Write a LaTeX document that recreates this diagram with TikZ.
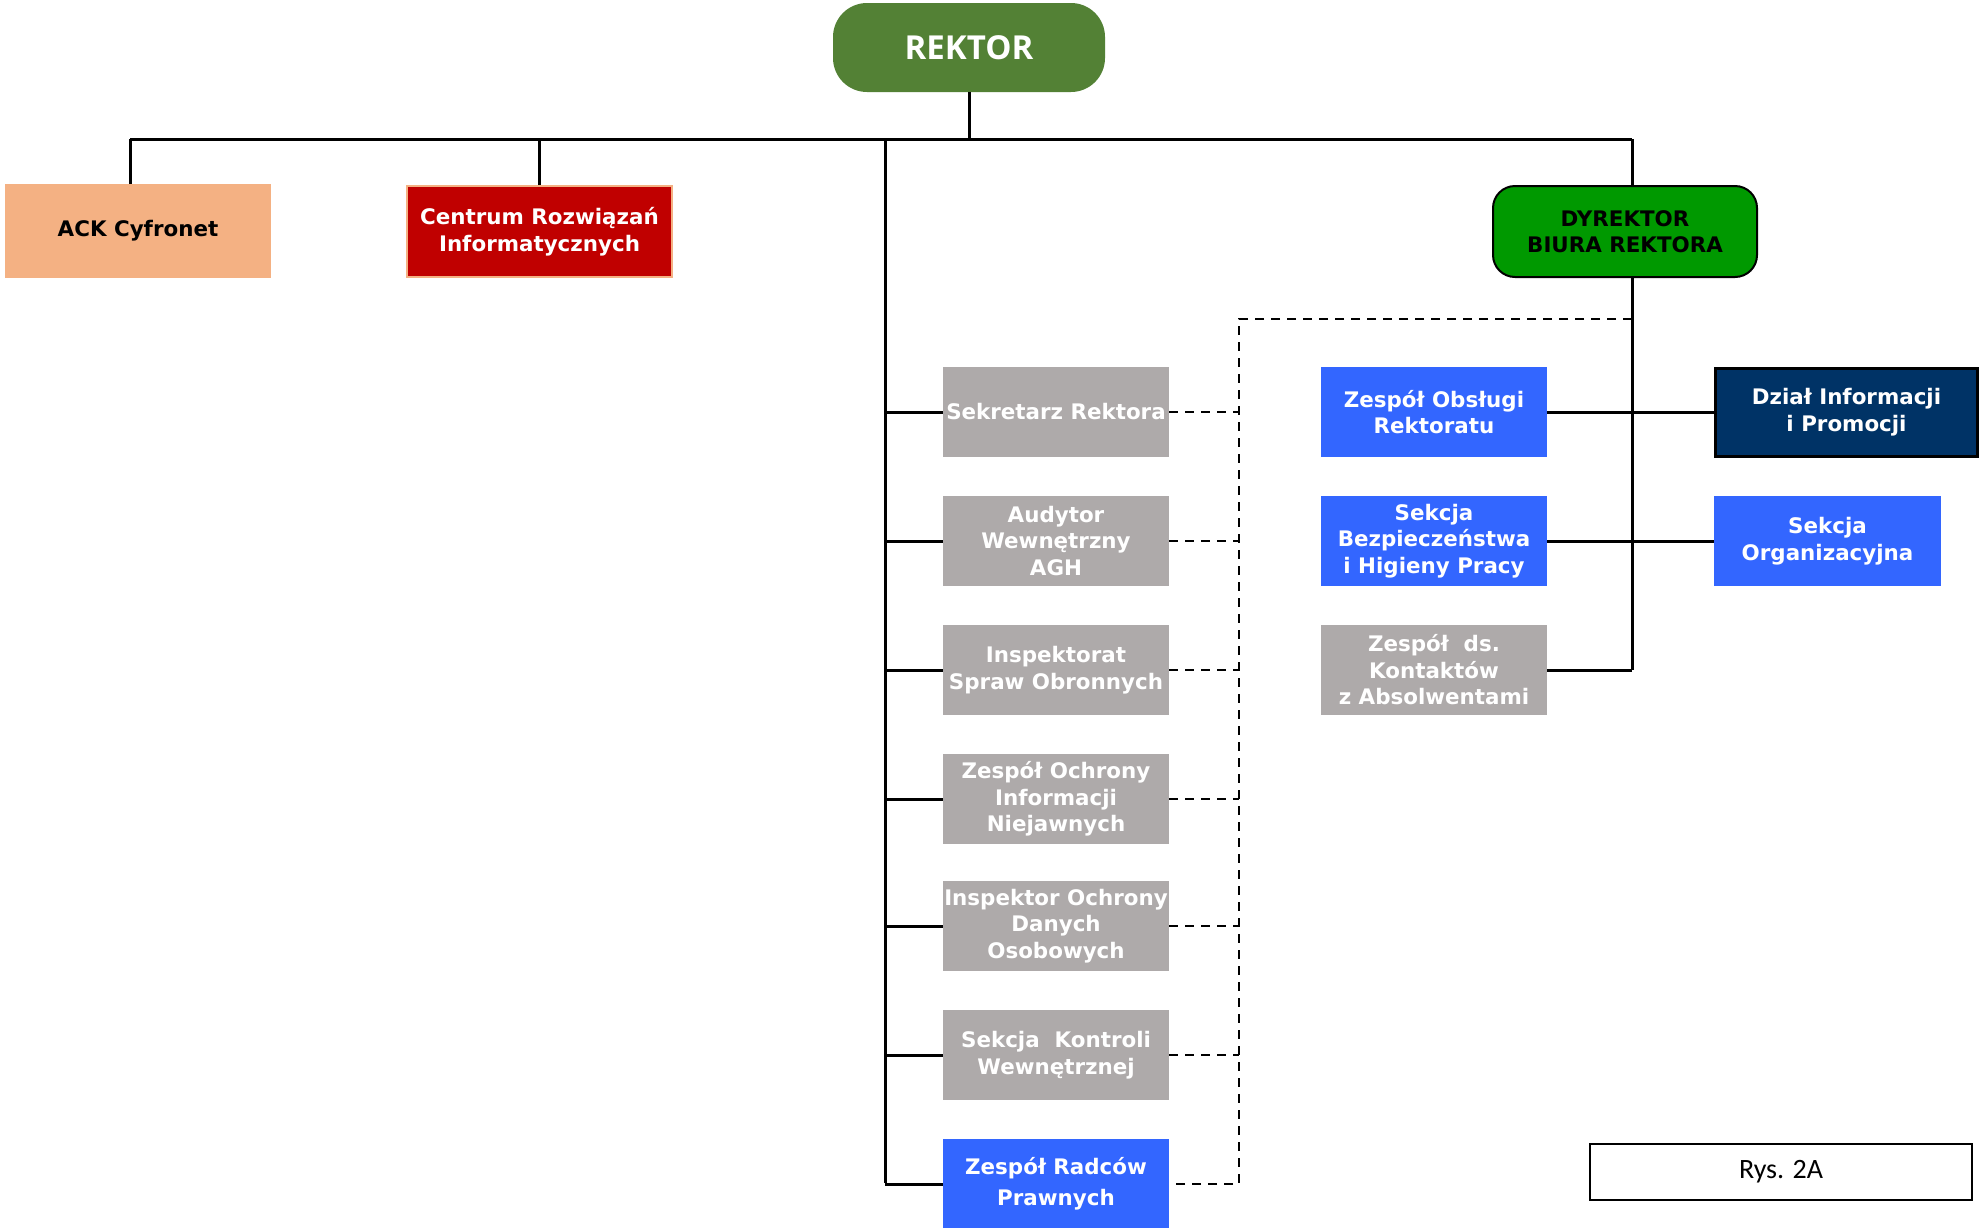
\documentclass[tikz,border=0pt]{standalone}
\usepackage{fontspec}
\setmainfont{DejaVu Sans}
\newfontfamily\rekfont{Open Sans}
\newfontfamily\rysfont{Carlito}
\definecolor{rekgreen}{HTML}{538135}
\definecolor{peach}{HTML}{F4B183}
\definecolor{darkred}{HTML}{C00000}
\definecolor{dyrgreen}{HTML}{009900}
\definecolor{boxgray}{HTML}{AEAAAA}
\definecolor{boxblue}{HTML}{3366FF}
\definecolor{navy}{HTML}{003366}
\tikzset{
  base/.style={align=center, inner sep=0pt, font=\fontsize{10.7}{13.25}\selectfont\bfseries, text=white},
  col/.style={base, minimum width=113pt, minimum height=45pt},
  graybox/.style={col, fill=boxgray},
  bluebox/.style={col, fill=boxblue},
  conn/.style={line width=1.5pt},
  dconn/.style={line width=1.3pt, dash pattern=on 4.5pt off 3.5pt},
}
\begin{document}
\begin{tikzpicture}[x=0.5pt,y=-0.5pt]
\useasboundingbox (0,0) rectangle (1980,1227);
% top
\node[base, fill=rekgreen, rounded corners=17pt, minimum width=136pt, minimum height=44.5pt, font=\rekfont\fontsize{16.5}{20}\selectfont\bfseries] (rektor) at (969,47.5) {REKTOR};
\node[base, fill=peach, text=black, minimum width=133pt, minimum height=47pt] (ack) at (138,231) {ACK Cyfronet};
\node[base, fill=darkred, draw=peach, line width=1pt, minimum width=132.5pt, minimum height=45.5pt] (cri) at (539.5,231.5) {Centrum Rozwiązań\\Informatycznych};
\node[base, fill=dyrgreen, draw=black, line width=1pt, rounded corners=11pt, text=black, minimum width=132pt, minimum height=45.5pt] (dyr) at (1625,231.5) {DYREKTOR\\BIURA REKTORA};
% middle column
\node[graybox] (sek) at (1056,412) {Sekretarz Rektora};
\node[graybox] (aud) at (1056,541) {Audytor\\Wewnętrzny\\AGH};
\node[graybox] (ins) at (1056,670) {Inspektorat\\Spraw Obronnych};
\node[graybox] (zoin) at (1056,799) {Zespół Ochrony\\Informacji\\Niejawnych};
\node[graybox] (iodo) at (1056,926) {Inspektor Ochrony\\Danych\\Osobowych};
\node[graybox] (skw) at (1056,1055) {Sekcja~ Kontroli\\Wewnętrznej};
\node[bluebox, font=\fontsize{10.7}{15.5}\selectfont\bfseries] (rad) at (1056,1184) {Zespół Radców\\Prawnych};
% right columns
\node[bluebox] (zor) at (1434,412) {Zespół Obsługi\\Rektoratu};
\node[bluebox] (bhp) at (1434,541) {Sekcja\\Bezpieczeństwa\\i Higieny Pracy};
\node[graybox] (kont) at (1434,670) {Zespół~ ds.\\Kontaktów\\z Absolwentami};
\node[base, fill=navy, draw=black, line width=1.5pt, minimum width=131pt, minimum height=44pt] (dzial) at (1846.5,412) {Dział Informacji\\i Promocji};
\node[bluebox, minimum width=113.5pt] (sorg) at (1827.5,541) {Sekcja\\Organizacyjna};
% caption
\node[draw=black, line width=0.7pt, minimum width=191pt, minimum height=28pt, inner sep=0pt, font=\rysfont\fontsize{14}{16}\selectfont] (rys) at (1781,1172) {Rys. 2A};
% coordinates
\coordinate (busL) at (130,139);
\coordinate (busR) at (1632,139);
\coordinate (mainTop) at (885,139);
\coordinate (mainBot) at (885,1183);
\coordinate (dv) at (1632,670);
\coordinate (dA) at (1632,319);
\coordinate (dB) at (1239,319);
% solid connectors
\draw[conn] (rektor.south) -- (rektor.south |- busL);
\draw[conn] (busL) -- (busR);
\draw[conn] (busL) -- (busL |- ack.north);
\draw[conn] (cri.north) -- (cri.north |- busL);
\draw[conn] (mainTop) -- (mainBot);
\foreach \n in {sek,aud,ins,zoin,iodo,skw,rad}{
  \draw[conn] (mainTop |- \n.west) -- (\n.west);
}
\draw[conn] (busR) -- (busR |- dyr.north);
\draw[conn] (busR |- dyr.south) -- (dv);
\draw[conn] (zor.east) -- (dzial.west);
\draw[conn] (bhp.east) -- (sorg.west);
\draw[conn] (kont.east) -- (dv);
% dashed connectors
\draw[dconn] (dA) -- (dB) -- (dB |- rad.east) -- (rad.east);
\foreach \n in {sek,aud,ins,zoin,iodo,skw}{
  \draw[dconn] (\n.east) -- (\n.east -| dB);
}
\end{tikzpicture}
\end{document}
